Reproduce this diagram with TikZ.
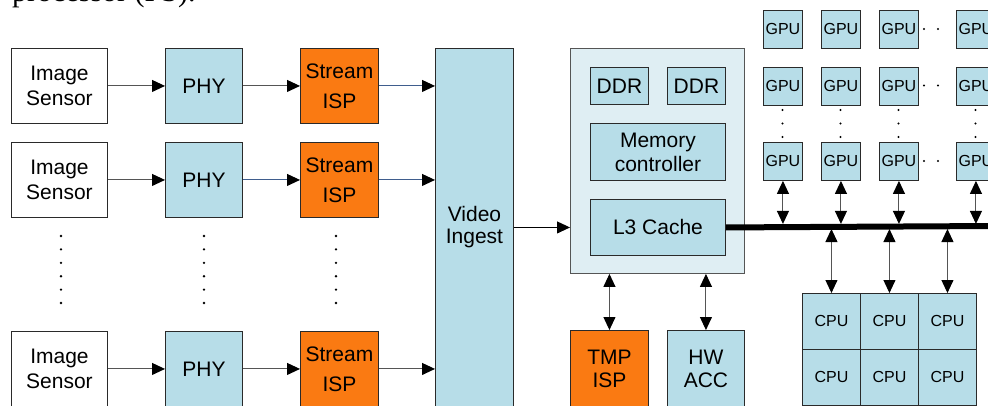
\documentclass[tikz,border=0pt]{standalone}
\usepackage{fontspec}
\setmainfont{Liberation Sans}
\newfontfamily\captionfont{Liberation Serif}
\usetikzlibrary{arrows.meta,calc}

\definecolor{lblue}{HTML}{B7DDE8}
\definecolor{pale}{HTML}{DFEEF3}
\definecolor{ispor}{HTML}{FA7A12}
\definecolor{edge}{HTML}{2A2A2A}
\definecolor{wire}{HTML}{555555}
\definecolor{bluewire}{HTML}{3F5D8D}

\tikzset{
  headtri/.tip={Triangle[length=13pt,width=12pt,color=black]},
  blk/.style={draw=edge, line width=0.9pt, inner sep=0pt, anchor=north west,
    align=center, font=\fontsize{21}{25}\selectfont},
  sensor/.style={blk, fill=white, minimum width=96pt, minimum height=75pt},
  phy/.style={blk, fill=lblue, minimum width=77pt, minimum height=75pt},
  isp/.style={blk, fill=ispor, minimum width=78pt, minimum height=75pt,
    font=\fontsize{21}{30}\selectfont},
  gpu/.style={blk, fill=lblue, minimum width=39pt, minimum height=38pt,
    font=\fontsize{16}{18}\selectfont},
  cpu/.style={blk, fill=lblue, minimum width=58pt, minimum height=56pt,
    font=\fontsize{16}{18}\selectfont},
  arr/.style={draw=wire, line width=1pt, -{headtri}},
  barr/.style={draw=bluewire, line width=1pt, -{headtri}},
  darr/.style={draw=wire, line width=1pt, {headtri}-{headtri}},
  dotmark/.style={fill=black, draw=none},
}

\begin{document}
\begin{tikzpicture}[x=1pt, y=-1pt]
\useasboundingbox (0,0) rectangle (988,405);
\clip (0,0) rectangle (988,405);

% caption line of the surrounding text
\node[anchor=base west, inner sep=0pt, font=\captionfont\fontsize{30}{34}\selectfont]
  (captext) at (12,1.5) {processor (PS).};

% sensor pipelines
\node[sensor] (s1) at (11,48)  {Image\\Sensor};
\node[sensor] (s2) at (11,142) {Image\\Sensor};
\node[sensor] (s3) at (11,331) {Image\\Sensor};
\node[phy] (p1) at (165,48)  {PHY};
\node[phy] (p2) at (165,142) {PHY};
\node[phy] (p3) at (165,331) {PHY};
\node[isp] (i1) at (300,48)  {Stream\\ISP};
\node[isp] (i2) at (300,142) {Stream\\ISP};
\node[isp] (i3) at (300,331) {Stream\\ISP};

\node[blk, fill=lblue, minimum width=78pt, minimum height=358pt,
  font=\fontsize{21}{22}\selectfont] (vid) at (435,48) {Video\\Ingest};

\draw[arr]  (s1) -- (p1);
\draw[arr]  (p1) -- (i1);
\draw[barr] (i1.east) -- (i1.east -| vid.west);
\draw[arr]  (s2) -- (p2);
\draw[barr] (p2) -- (i2);
\draw[barr] (i2.east) -- (i2.east -| vid.west);
\draw[arr]  (s3) -- (p3);
\draw[arr]  (p3) -- (i3);
\draw[arr]  (i3.east) -- (i3.east -| vid.west);

% vertical ellipses between the pipeline rows
\foreach \x in {61,204,336}
  \foreach \y in {236,249.4,262.8,276.2,289.6,303}
    \fill[dotmark] (\x,\y) circle (1.3pt);

% memory subsystem
\node[blk, draw=wire, fill=pale, minimum width=174pt, minimum height=225pt] (mem) at (570,48) {};
\node[blk, fill=lblue, minimum width=58pt, minimum height=37pt] (ddr1) at (590,67) {DDR};
\node[blk, fill=lblue, minimum width=58pt, minimum height=37pt] (ddr2) at (667,67) {DDR};
\node[blk, fill=lblue, minimum width=135pt, minimum height=57pt,
  font=\fontsize{21}{24}\selectfont] (mc) at (590,123) {Memory\\controller};
\node[blk, fill=lblue, minimum width=135pt, minimum height=56pt] (l3) at (590,199) {L3 Cache};

\draw[draw=black, line width=1pt, -{headtri}] (vid.east |- l3) -- (mem.west |- l3);

\node[blk, fill=ispor, minimum width=78pt, minimum height=76pt,
  font=\fontsize{21}{23}\selectfont] (tmp) at (570,330) {TMP\\ISP};
\node[blk, fill=lblue, minimum width=77pt, minimum height=76pt,
  font=\fontsize{21}{23}\selectfont] (acc) at (667,330) {HW\\ACC};
\draw[darr] (tmp.north |- mem.south) -- (tmp.north);
\draw[darr] (acc.north |- mem.south) -- (acc.north);

% system bus
\coordinate (busend) at (995,226);
\draw[line width=6pt, black] (l3.east) -- (busend);

% GPU array
\foreach \c/\x in {1/763,2/821,3/879,4/956} {
  \node[gpu] (ga\c) at (\x,10)  {GPU};
  \node[gpu] (gb\c) at (\x,67)  {GPU};
  \node[gpu] (gc\c) at (\x,142) {GPU};
  \coordinate (busup\c) at ($(gc\c.south)+(0,43)$);
  \draw[darr] (gc\c.south) -- (busup\c);
}
\foreach \x in {782.5,840.5,898.5,975.5}
  \foreach \y in {110,123.5,137}
    \fill[dotmark] (\x,\y) circle (1.1pt);
\foreach \y in {29,85.5,161}
  \foreach \x in {924,938}
    \fill[dotmark] (\x,\y) circle (1.1pt);

% CPU cluster
\foreach \c/\x in {1/802,2/860,3/918} {
  \node[cpu] (ca\c) at (\x,293) {CPU};
  \node[cpu] (cb\c) at (\x,349) {CPU};
  \coordinate (busdn\c) at ($(ca\c.north)+(0,-64)$);
  \draw[darr] (busdn\c) -- (ca\c.north);
}
\end{tikzpicture}
\end{document}
